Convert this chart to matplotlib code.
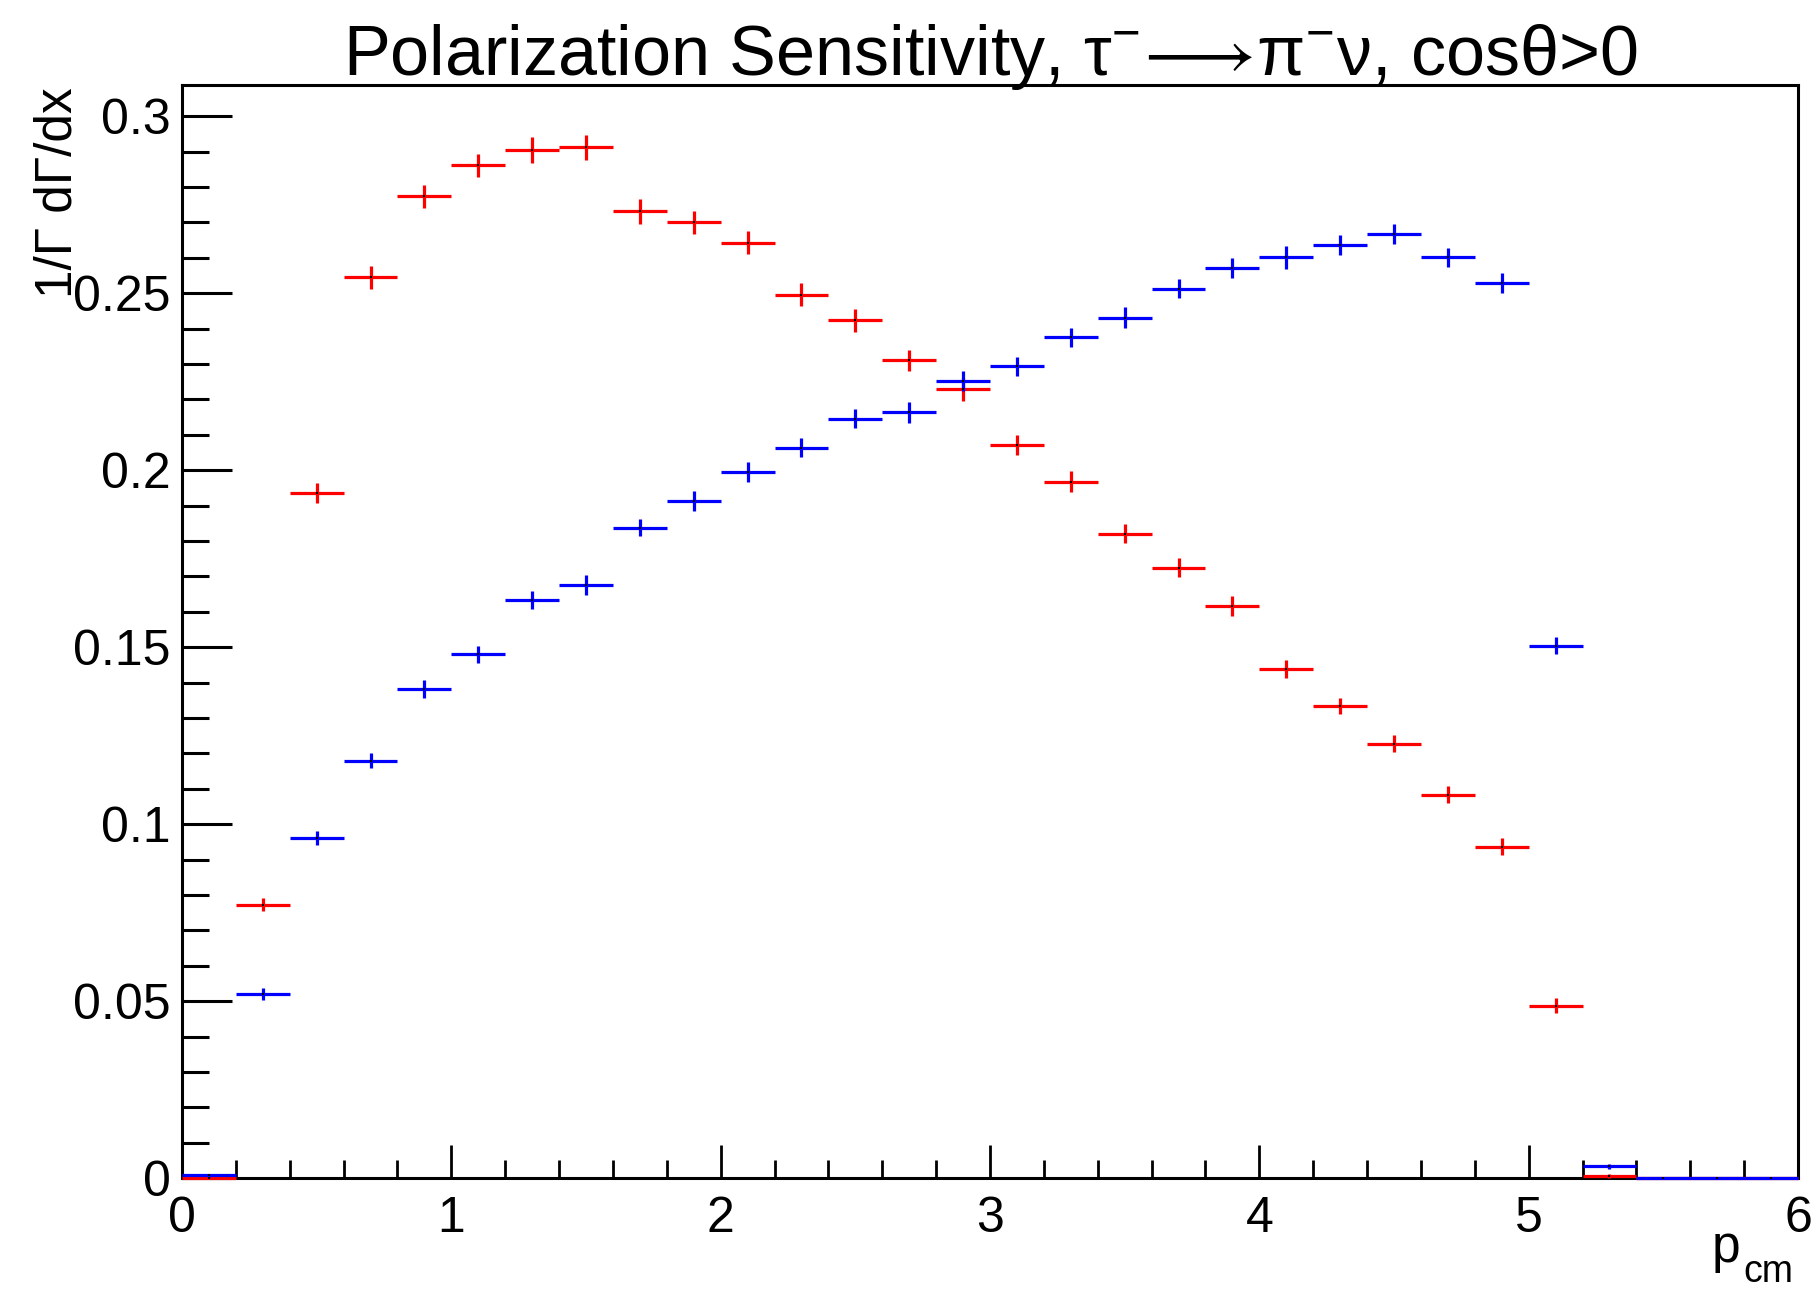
import numpy as np
import matplotlib
matplotlib.use("Agg")
import matplotlib.pyplot as plt

plt.rcParams['font.family'] = ['Liberation Sans', 'DejaVu Sans']
plt.rcParams['mathtext.fontset'] = 'custom'
plt.rcParams['mathtext.rm'] = 'Liberation Sans'
plt.rcParams['mathtext.it'] = 'Liberation Sans:italic'
plt.rcParams['mathtext.bf'] = 'Liberation Sans:bold'

# ---- data (histogram, 30 bins from 0 to 6) ----
x_min, x_max, n_bins = 0.0, 6.0, 30

red_vals = [0.0, 0.0773, 0.1936, 0.2545, 0.2774, 0.2861, 0.2904, 0.2912, 0.2731, 0.2700,
            0.2643, 0.2496, 0.2423, 0.2310, 0.2228, 0.2072, 0.1968, 0.1821, 0.1725, 0.1617,
            0.1439, 0.1334, 0.1227, 0.1083, 0.0936, 0.0488, 0.0007, 0.0, 0.0, 0.0]
red_errs = [0.0, 0.0019, 0.0028, 0.0032, 0.0032, 0.0032, 0.0036, 0.0036, 0.0035, 0.0032,
            0.0032, 0.0032, 0.0032, 0.0029, 0.0032, 0.0028, 0.0030, 0.0028, 0.0028, 0.0028,
            0.0025, 0.0024, 0.0024, 0.0024, 0.0024, 0.0022, 0.0006, 0.0, 0.0, 0.0]

blue_vals = [0.0008, 0.0520, 0.0960, 0.1179, 0.1383, 0.1480, 0.1634, 0.1675, 0.1838, 0.1913,
             0.1995, 0.2063, 0.2146, 0.2163, 0.2253, 0.2293, 0.2375, 0.2431, 0.2513, 0.2570,
             0.2601, 0.2635, 0.2666, 0.2601, 0.2529, 0.1504, 0.0034, 0.0001, 0.0, 0.0]
blue_errs = [0.0004, 0.0017, 0.0020, 0.0021, 0.0025, 0.0024, 0.0025, 0.0028, 0.0025, 0.0027,
             0.0027, 0.0027, 0.0028, 0.0030, 0.0028, 0.0028, 0.0028, 0.0030, 0.0028, 0.0028,
             0.0033, 0.0028, 0.0028, 0.0028, 0.0028, 0.0024, 0.0007, 0.0003, 0.0, 0.0]

x_ticks = [0, 1, 2, 3, 4, 5, 6]
y_ticks = [0, 0.05, 0.1, 0.15, 0.2, 0.25, 0.3]
y_tick_labels = ['0', '0.05', '0.1', '0.15', '0.2', '0.25', '0.3']

title = (r"Polarization Sensitivity, $\mathrm{\tau}^{\mathrm{-}}\!\longrightarrow\!"
         r"\mathrm{\pi}^{\mathrm{-}}\mathrm{\nu}$, cos$\mathrm{\theta}$>0")
ylabel = "1/Γ dΓ/dx"
xlabel_main = "p"
xlabel_sub = "cm"

# ---- figure ----
W, H = 1817, 1290
fig = plt.figure(figsize=(W / 100, H / 100), dpi=100)
ax = fig.add_axes([182 / W, 1 - 1178.3 / H, (1798 - 182) / W, (1178.3 - 85) / H])

edges = np.linspace(x_min, x_max, n_bins + 1)
centers = 0.5 * (edges[:-1] + edges[1:])
half = 0.5 * (edges[1:] - edges[:-1])

for vals, errs, col in [(red_vals, red_errs, '#ff0000'), (blue_vals, blue_errs, '#0000ff')]:
    eb = ax.errorbar(centers, vals, xerr=half, yerr=errs, fmt='none', ecolor=col,
                     elinewidth=2.3, capsize=0, zorder=3)
    for c in eb[2]:
        c.set_clip_on(False)
        c.set_capstyle('butt')
    ax.plot(centers, vals, 's', color='black', ms=2.0, mew=0, zorder=4, clip_on=False)

ax.set_xlim(x_min, x_max)
ax.set_ylim(0, 0.3088)

ax.set_xticks(x_ticks)
ax.set_xticklabels([str(t) for t in x_ticks])
ax.set_xticks(np.arange(0, 6.01, 0.2), minor=True)
ax.set_yticks(y_ticks)
ax.set_yticklabels(y_tick_labels)
ax.set_yticks(np.arange(0, 0.3051, 0.01), minor=True)

ax.tick_params(axis='x', which='major', direction='in', length=24, width=2, pad=13,
               labelsize=36, top=False)
ax.tick_params(axis='x', which='minor', direction='in', length=13, width=2, top=False)
ax.tick_params(axis='y', which='major', direction='in', length=36, width=2.2, pad=8,
               labelsize=36, right=False)
ax.tick_params(axis='y', which='minor', direction='in', length=19.5, width=2.2, right=False)

for s in ax.spines.values():
    s.set_linewidth(2.2)
    s.set_zorder(2.5)

fig.text(990 / W, 1 - 75 / H, title, ha='center', va='baseline', fontsize=50.5)
fig.text(58 / W, 1 - 87 / H, ylabel, rotation=90, ha='center', va='top', fontsize=37)
fig.text(1740 / W, 1 - 1262 / H, xlabel_main, ha='right', va='baseline', fontsize=37)
fig.text(1743 / W, 1 - 1282 / H, xlabel_sub, ha='left', va='baseline', fontsize=27)

fig.savefig("out.png", dpi=100)
